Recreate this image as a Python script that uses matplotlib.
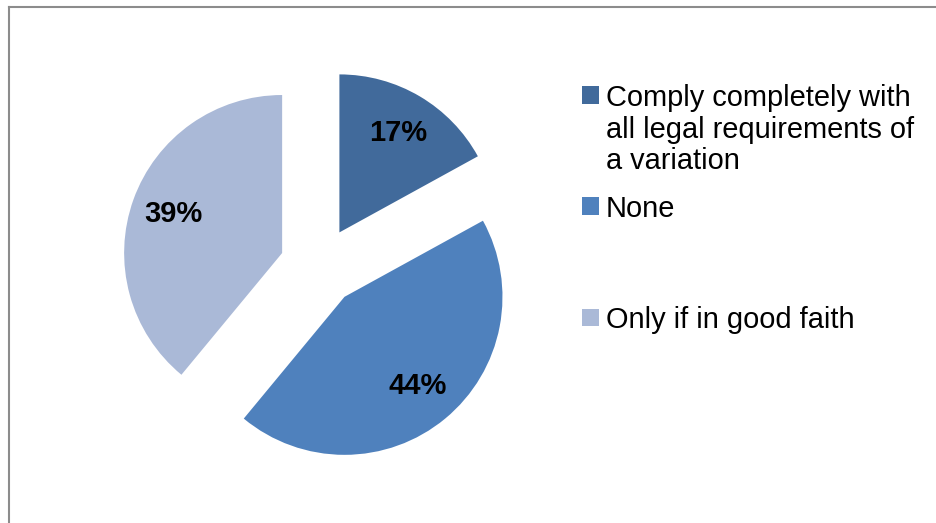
import textwrap
import matplotlib
matplotlib.use("Agg")
import matplotlib.pyplot as plt
from matplotlib.patches import Rectangle
from matplotlib.lines import Line2D

categories = ["Comply completely with all legal requirements of a variation",
              "None",
              "Only if in good faith"]
values = [17, 44, 39]
colors = ["#416A9B", "#4F81BD", "#AAB9D7"]

W, H = 937, 523
fig = plt.figure(figsize=(W / 100, H / 100), dpi=100)
plt.rcParams['font.family'] = ['Liberation Sans', 'DejaVu Sans']

# pie axes: centre (319, 266) px, radius 158 px
cx, cy, R, k = 319.3, 266.4, 158.0, 1.45
half = R * k
ax = fig.add_axes([(cx - half) / W, (H - cy - half) / H, 2 * half / W, 2 * half / H])
wedges, texts, autotexts = ax.pie(values, colors=colors, startangle=90, counterclock=False,
                                  explode=[0.25] * len(values), autopct='%1.0f%%',
                                  pctdistance=0.73, radius=1.0,
                                  textprops=dict(fontsize=21, fontweight='bold', color='black'))
ax.set_xlim(-k, k)
ax.set_ylim(-k, k)
ax.set_aspect('auto')
ax.axis('off')

# legend (manual layout)
sq = 17
first_baseline = [106, 217, 328]  # px from top
line_step = 31.5
for cat, col, yb in zip(categories, colors, first_baseline):
    yc = yb - 11
    fig.patches.append(Rectangle((582 / W, (H - yc - sq / 2) / H), sq / W, sq / H,
                                 transform=fig.transFigure, facecolor=col, edgecolor='none'))
    for i, line in enumerate(textwrap.wrap(cat, 25)):
        fig.text(606 / W, (H - yb - i * line_step) / H, line,
                 fontsize=20.9, va='baseline', ha='left', color='black')

# chart frame (cropped at right/bottom)
fig.add_artist(Line2D([9 / W, 1.0], [(H - 7) / H, (H - 7) / H], transform=fig.transFigure,
                      color='#8C8C8C', lw=1.5))
fig.add_artist(Line2D([9 / W, 9 / W], [0, (H - 7) / H], transform=fig.transFigure,
                      color='#8C8C8C', lw=1.5))

fig.savefig("out.png", dpi=100, facecolor='white')
